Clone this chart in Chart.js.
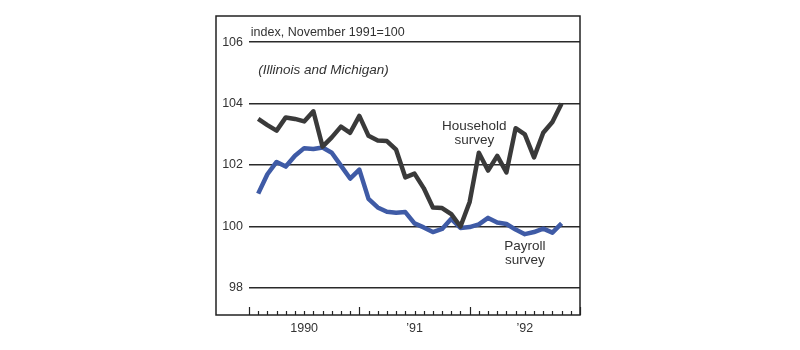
<!DOCTYPE html>
<html lang="en">
<head>
	<title>Household and payroll surveys</title>
	<script src="https://cdn.jsdelivr.net/npm/chart.js@4/dist/chart.umd.min.js"></script>
	<style>
		body { margin: 0; background: #fff; }
		#wrap { width: 800px; height: 350px; }
	</style>
</head>
<body>
	<div id="wrap"><canvas id="c1" width="800" height="350"></canvas></div>
	<script>
	// months counted from Jan 1990 = 0
	var months = [1, 2, 3, 4, 5, 6, 7, 8, 9, 10, 11, 12, 13, 14, 15, 16, 17,
		18, 19, 20, 21, 22, 23, 24, 25, 26, 27, 28, 29, 30, 31, 32, 33, 34];
	var household = [103.5, 103.3, 103.12, 103.55, 103.5, 103.42, 103.75, 102.6, 102.9, 103.25,
		103.05, 103.6, 102.95, 102.8, 102.78, 102.5, 101.6, 101.72, 101.25, 100.62,
		100.6, 100.4, 100.0, 100.8, 102.4, 101.82, 102.3, 101.76, 103.2, 103.0,
		102.25, 103.05, 103.4, 104.0];
	var payroll = [101.07, 101.7, 102.1, 101.95, 102.3, 102.55, 102.52, 102.57, 102.4, 101.98,
		101.56, 101.85, 100.9, 100.62, 100.48, 100.45, 100.47, 100.1, 99.97, 99.82,
		99.92, 100.25, 99.95, 99.98, 100.07, 100.28, 100.13, 100.08, 99.9, 99.75,
		99.82, 99.93, 99.8, 100.1];
	var yTicks = [98, 100, 102, 104, 106];
	var yearTicks = [6, 18, 30];
	var yearLabels = ['1990', '\u201991', '\u201992'];
	var notes = [
		{text: 'index, November 1991=100', x: 0.2, y: 106.3, align: 'left', italic: false, size: 12.5},
		{text: '(Illinois and Michigan)', x: 1.0, y: 105.1, align: 'left', italic: true, size: 13.5},
		{text: 'Household', x: 24.5, y: 103.25, align: 'center', italic: false, size: 13.5},
		{text: 'survey', x: 24.5, y: 102.8, align: 'center', italic: false, size: 13.5},
		{text: 'Payroll', x: 30.0, y: 99.35, align: 'center', italic: false, size: 13.5},
		{text: 'survey', x: 30.0, y: 98.9, align: 'center', italic: false, size: 13.5}
	];

	function pts(values)
	{
		return values.map(function(v, i) { return {x: months[i], y: v}; });
	}

	var frameAndTicks = {
		id: 'frameAndTicks',
		afterDraw: function(chart) {
			var ctx = chart.ctx, a = chart.chartArea;
			var xs = chart.scales.x, ys = chart.scales.y;
			ctx.save();
			ctx.strokeStyle = '#222';
			ctx.lineWidth = 1.5;
			ctx.strokeRect(ys.left, a.top, a.right - ys.left, a.bottom - a.top);
			// month ticks rising from the base line
			ctx.lineWidth = 1.2;
			for (var m = 0; m <= 36; m++) {
				var px = Math.round(xs.getPixelForValue(m)) + 0.5;
				var len = (m % 12 == 0) ? 8 : 4;
				ctx.beginPath();
				ctx.moveTo(px, a.bottom);
				ctx.lineTo(px, a.bottom - len);
				ctx.stroke();
			}
			ctx.restore();
		},
		afterDatasetsDraw: function(chart) {
			var ctx = chart.ctx;
			var xs = chart.scales.x, ys = chart.scales.y;
			ctx.save();
			ctx.fillStyle = '#333';
			ctx.textBaseline = 'middle';
			notes.forEach(function(n) {
				ctx.font = (n.italic ? 'italic ' : '') + n.size + 'px "Liberation Sans", Arial, sans-serif';
				ctx.textAlign = n.align;
				ctx.fillText(n.text, xs.getPixelForValue(n.x), ys.getPixelForValue(n.y));
			});
			ctx.restore();
		}
	};

	var config = {
		type: 'line',
		plugins: [frameAndTicks],
		data: {
			datasets: [
				{label: 'Household survey', data: pts(household), borderColor: '#3a3a3a', borderWidth: 4.5},
				{label: 'Payroll survey', data: pts(payroll), borderColor: '#3f5ba6', borderWidth: 4.5}
			]
		},
		options: {
			responsive: false,
			devicePixelRatio: 1,
			animation: false,
			layout: {padding: {left: 216, right: 220, top: 16, bottom: 5}},
			elements: {
				point: {radius: 0},
				line: {tension: 0, borderJoinStyle: 'round', borderCapStyle: 'butt'}
			},
			plugins: {legend: {display: false}, tooltip: {enabled: false}},
			scales: {
				x: {
					type: 'linear',
					min: 0,
					max: 36,
					grid: {display: false, drawTicks: false},
					border: {display: false},
					afterBuildTicks: function(scale) {
						scale.ticks = yearTicks.map(function(v) { return {value: v}; });
					},
					afterFit: function(scale) { scale.height = 30; },
					ticks: {
						padding: 6,
						color: '#333',
						maxRotation: 0,
						autoSkip: false,
						font: {family: '"Liberation Sans", Arial, sans-serif', size: 12.5},
						callback: function(value) {
							return yearLabels[yearTicks.indexOf(value)];
						}
					}
				},
				y: {
					min: 97.12,
					max: 106.85,
					border: {display: false},
					grid: {color: '#2a2a2a', lineWidth: 1.5, drawTicks: false},
					afterBuildTicks: function(scale) {
						scale.ticks = yTicks.map(function(v) { return {value: v}; });
					},
					afterFit: function(scale) { scale.width = 33; },
					ticks: {
						padding: 6,
						color: '#333',
						font: {family: '"Liberation Sans", Arial, sans-serif', size: 12.5}
					}
				}
			}
		}
	};

	var chart = new Chart(document.getElementById('c1'), config);
	</script>
</body>
</html>
